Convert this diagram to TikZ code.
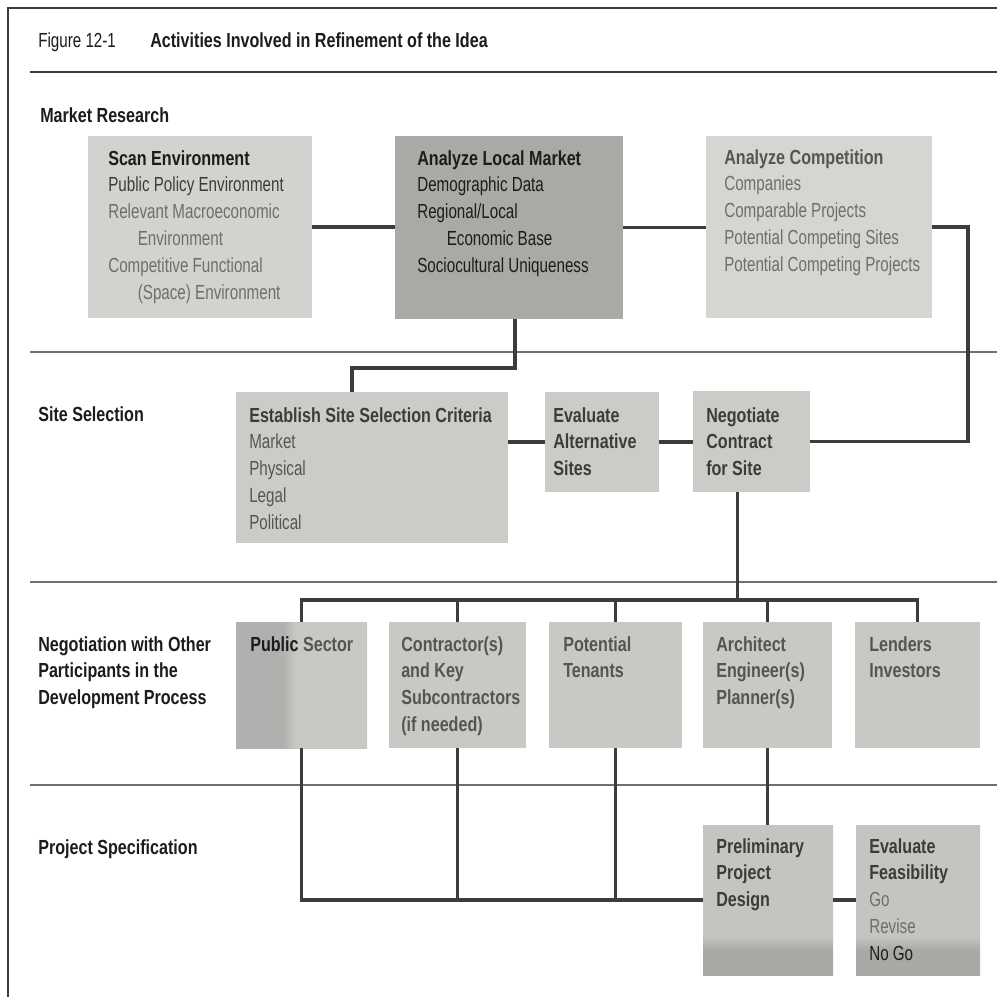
\documentclass[tikz,border=0pt]{standalone}
\usepackage{fontspec}
\setmainfont{Liberation Sans}[FakeStretch=0.745, BoldFeatures={FakeStretch=0.79}]
\usetikzlibrary{fit}
\definecolor{scanfill}{HTML}{D2D2CF}
\definecolor{localfill}{HTML}{A9A9A6}
\definecolor{compfill}{HTML}{D5D5D2}
\definecolor{sitefill}{HTML}{CBCBC8}
\definecolor{rowfill}{HTML}{C8C8C5}
\definecolor{pubdk}{HTML}{B0B0AE}
\definecolor{botlt}{HTML}{C4C4C1}
\definecolor{botdk}{HTML}{A8A8A5}
\definecolor{conncol}{HTML}{3C3C3C}
\definecolor{sepcol}{HTML}{707070}
\definecolor{tblack}{HTML}{1C1C1C}
\definecolor{tdark}{HTML}{3C3C3C}
\definecolor{tmid}{HTML}{555555}
\definecolor{tlight}{HTML}{6E6E6E}
\pgfdeclarehorizontalshading{pubshade}{100bp}{color(0bp)=(pubdk); color(43bp)=(pubdk); color(48bp)=(rowfill); color(100bp)=(rowfill)}
\pgfdeclareverticalshading{botshade}{100bp}{color(0bp)=(botdk); color(33bp)=(botdk); color(38bp)=(botlt); color(100bp)=(botlt)}
\begin{document}
\begin{tikzpicture}[x=0.025cm, y=-0.025cm,
  box/.style={inner sep=0pt, outer sep=0pt, draw=none},
  txt/.style={inner sep=0pt, align=left, anchor=north west, font=\fontsize{14.5}{19.06}\selectfont},
  conn/.style={line width=2.6pt, draw=conncol, line join=miter},
  sepline/.style={line width=0.8pt, draw=sepcol}]
\useasboundingbox[fill=white] (0,0) rectangle (997,997);

% frame and rules
\draw[line width=1.8pt, draw=tdark] (7,8) -- (997,8);
\draw[line width=1pt, draw=tdark] (8,8) -- (8,997);
\draw[line width=1.5pt, draw=tdark] (30,72) -- (997,72);
\draw[sepline] (30,352) -- (997,352);
\draw[sepline] (30,582) -- (997,582);
\draw[sepline] (30,785) -- (997,785);

% title
\node[txt, text=tblack] (fig) at (38,32.1) {Figure 12-1};
\node[txt, text=tblack] (title) at (150,32.1) {\textbf{Activities Involved in Refinement of the Idea}};

% section labels
\node[txt, text=tblack] (lmr) at (40,107.1) {\textbf{Market Research}};
\node[txt, text=tblack] (lss) at (38,406.1) {\textbf{Site Selection}};
\node[txt, text=tblack] (lneg) at (38,636.1) {\textbf{Negotiation with Other}\\\textbf{Participants in the}\\\textbf{Development Process}};
\node[txt, text=tblack] (lps) at (38,839.1) {\textbf{Project Specification}};

% boxes
\node[box, fill=scanfill, fit={(88,136) (312,318)}] (scan) {};
\node[box, fill=localfill, fit={(395,136) (623,319)}] (local) {};
\node[box, fill=compfill, fit={(706,136) (932,318)}] (comp) {};
\node[box, fill=sitefill, fit={(236,392) (508,543)}] (crit) {};
\node[box, fill=sitefill, fit={(545,392) (659,492)}] (alt) {};
\node[box, fill=sitefill, fit={(693,391) (810,492)}] (neg) {};
\node[box, shading=pubshade, fit={(236,622) (367,748)}] (pub) {};
\node[box, fill=rowfill, fit={(389,622) (526,748)}] (contr) {};
\node[box, fill=rowfill, fit={(549,622) (682,748)}] (ten) {};
\node[box, fill=rowfill, fit={(703,622) (832,748)}] (arch) {};
\node[box, fill=rowfill, fit={(855,622) (980,748)}] (lend) {};
\node[box, shading=botshade, fit={(703,825) (833,975)}] (prel) {};
\node[box, shading=botshade, fit={(856,825) (980,975)}] (feas) {};

% box texts
\node[txt, text=tlight] (scant) at (108,150.1) {\textcolor{tblack}{\textbf{Scan Environment}}\\\textcolor{tdark}{Public Policy Environment}\\Relevant Macroeconomic\\\hspace*{21pt}Environment\\Competitive Functional\\\hspace*{21pt}(Space) Environment};
\node[txt, text=tblack] (localt) at (417,150.1) {\textbf{Analyze Local Market}\\Demographic Data\\Regional/Local\\\hspace*{21pt}Economic Base\\Sociocultural Uniqueness};
\node[txt, text=tlight] (compt) at (724,149.1) {\textcolor{tmid}{\textbf{Analyze Competition}}\\Companies\\Comparable Projects\\Potential Competing Sites\\Potential Competing Projects};
\node[txt, text=tmid] (critt) at (249,407.1) {\textcolor{tdark}{\textbf{Establish Site Selection Criteria}}\\Market\\Physical\\Legal\\Political};
\node[txt, text=tdark] (altt) at (553,407.1) {\textbf{Evaluate}\\\textbf{Alternative}\\\textbf{Sites}};
\node[txt, text=tdark] (negt) at (706,407.1) {\textbf{Negotiate}\\\textbf{Contract}\\\textbf{for Site}};
\node[txt, text=tmid] (pubt) at (250,636.1) {\textbf{\textcolor{tblack}{Public} Sector}};
\node[txt, text=tmid] (contrt) at (401,636.1) {\textbf{Contractor(s)}\\\textbf{and Key}\\\textbf{Subcontractors}\\\textbf{(if needed)}};
\node[txt, text=tmid] (tent) at (563,636.1) {\textbf{Potential}\\\textbf{Tenants}};
\node[txt, text=tmid] (archt) at (716,636.1) {\textbf{Architect}\\\textbf{Engineer(s)}\\\textbf{Planner(s)}};
\node[txt, text=tmid] (lendt) at (869,636.1) {\textbf{Lenders}\\\textbf{Investors}};
\node[txt, text=tdark] (prelt) at (716,838.1) {\textbf{Preliminary}\\\textbf{Project}\\\textbf{Design}};
\node[txt, text=tlight] (feast) at (869,838.1) {\textcolor{tdark}{\textbf{Evaluate}}\\\textcolor{tdark}{\textbf{Feasibility}}\\Go\\Revise\\\textcolor{tblack}{No Go}};

% connectors
\draw[conn] (scan.east) -- (scan.east -| local.west);
\draw[conn] (local.east) -- (local.east -| comp.west);
\draw[conn] (comp.east) -- ++(36,0) |- (neg.east);
\coordinate (ldrop) at ([shift={(6,0)}]local.south);
\coordinate (cdrop) at ([shift={(116,0)}]crit.north west);
\draw[conn] (ldrop) -- ++(0,49) -| (cdrop);
\draw[conn] (alt.west -| crit.east) -- (alt.west);
\draw[conn] (alt.east) -- (alt.east -| neg.west);
\coordinate (bus) at (0,600);
\coordinate (negdrop) at ([shift={(-14,0)}]neg.south);
\draw[conn] (negdrop) -- (negdrop |- bus);
\draw[conn] (pub.north) -- (pub.north |- bus) -- (lend.north |- bus) -- (lend.north);
\foreach \b in {contr,ten,arch} \draw[conn] (\b.north) -- (\b.north |- bus);
\draw[conn] (pub.south) |- (prel.west);
\draw[conn] (contr.south) -- (contr.south |- prel.west);
\draw[conn] (ten.south) -- (ten.south |- prel.west);
\draw[conn] (arch.south) -- (arch.south |- prel.north);
\draw[conn] (prel.east) -- (prel.east -| feas.west);
\end{tikzpicture}
\end{document}
